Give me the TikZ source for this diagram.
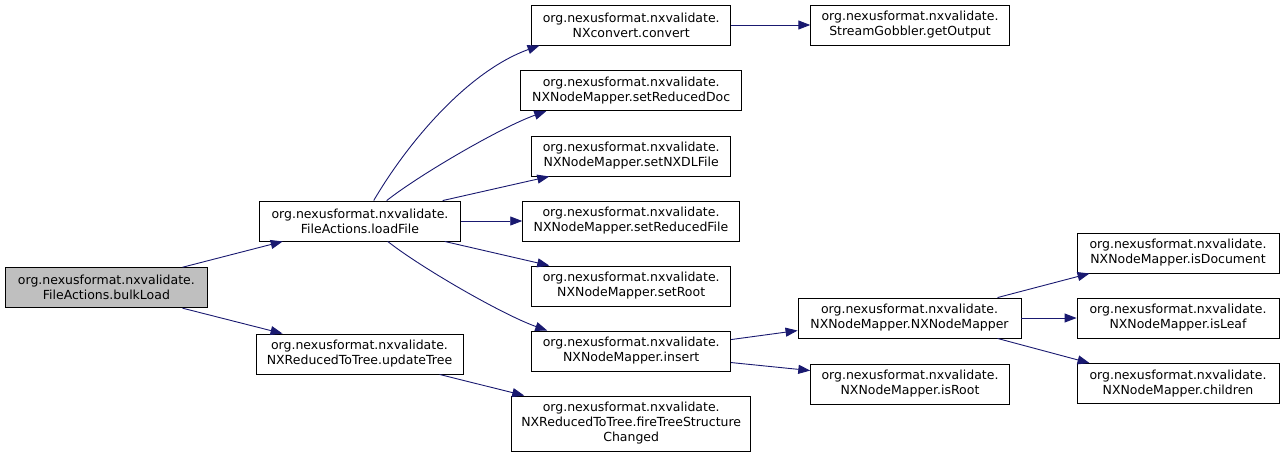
\documentclass[tikz,border=0pt]{standalone}
\usepackage{fontspec}
\setmainfont{DejaVu Sans}
\usetikzlibrary{arrows.meta}
\definecolor{edgecol}{HTML}{191970}
\definecolor{graybox}{HTML}{BFBFBF}
\begin{document}
\begin{tikzpicture}[x=1pt,y=1pt,
  box/.style={draw=black, line width=0.9pt, fill=white, align=center, inner sep=0pt,
    minimum height=40pt, font=\fontsize{12.5}{15}\selectfont},
  edge/.style={draw=edgecol, line width=0.9pt, -{Triangle[length=12pt,width=9pt]}}]
\useasboundingbox (0,0) rectangle (1285,-456);

\node[box, fill=graybox, minimum width=201.5pt] (bulkLoad) at (106.4,-287.7) {org.nexusformat.nxvalidate.\\FileActions.bulkLoad};
\node[box, minimum width=201.7pt] (loadFile) at (360,-221) {org.nexusformat.nxvalidate.\\FileActions.loadFile};
\node[box, minimum width=207pt] (updateTree) at (359.5,-354) {org.nexusformat.nxvalidate.\\NXReducedToTree.updateTree};

\node[box, minimum width=199pt] (convert) at (631.2,-25) {org.nexusformat.nxvalidate.\\NXconvert.convert};
\node[box, minimum width=221pt] (setReducedDoc) at (631.2,-90.7) {org.nexusformat.nxvalidate.\\NXNodeMapper.setReducedDoc};
\node[box, minimum width=199pt] (setNXDLFile) at (631.2,-156) {org.nexusformat.nxvalidate.\\NXNodeMapper.setNXDLFile};
\node[box, minimum width=216.6pt] (setReducedFile) at (631,-221) {org.nexusformat.nxvalidate.\\NXNodeMapper.setReducedFile};
\node[box, minimum width=199pt] (setRoot) at (631.2,-286) {org.nexusformat.nxvalidate.\\NXNodeMapper.setRoot};
\node[box, minimum width=199pt] (insert) at (631.2,-351) {org.nexusformat.nxvalidate.\\NXNodeMapper.insert};
\node[box, minimum width=239pt, minimum height=55pt] (fire) at (631.2,-423.5) {org.nexusformat.nxvalidate.\\NXReducedToTree.fireTreeStructure\\Changed};

\node[box, minimum width=198.5pt] (getOutput) at (910,-25) {org.nexusformat.nxvalidate.\\StreamGobbler.getOutput};
\node[box, minimum width=223pt] (mapper) at (909.5,-318) {org.nexusformat.nxvalidate.\\NXNodeMapper.NXNodeMapper};
\node[box, minimum width=198.5pt] (isRoot) at (910,-384) {org.nexusformat.nxvalidate.\\NXNodeMapper.isRoot};

\node[box, minimum width=202pt] (isDocument) at (1178,-253) {org.nexusformat.nxvalidate.\\NXNodeMapper.isDocument};
\node[box, minimum width=202pt] (isLeaf) at (1178,-318) {org.nexusformat.nxvalidate.\\NXNodeMapper.isLeaf};
\node[box, minimum width=202pt] (children) at (1178,-383.5) {org.nexusformat.nxvalidate.\\NXNodeMapper.children};

% edges
\draw[edge] ([xshift=177.3pt]bulkLoad.north west) -- ([xshift=24pt]loadFile.south west);
\draw[edge] ([xshift=177.3pt]bulkLoad.south west) -- ([xshift=27pt]updateTree.north west);

\draw[edge] ([xshift=115pt]loadFile.north west) .. controls +(34,58) and +(-72,-26) .. ([xshift=8.3pt]convert.south west);
\draw[edge] ([xshift=128pt]loadFile.north west) .. controls +(33,26) and +(-45,-16) .. ([xshift=26pt]setReducedDoc.south west);
\draw[edge] ([xshift=184pt]loadFile.north west) -- ([xshift=18pt]setNXDLFile.south west);
\draw[edge] (loadFile.east) -- (setReducedFile.west);
\draw[edge] ([xshift=186pt]loadFile.south west) -- ([xshift=18pt]setRoot.north west);
\draw[edge] ([xshift=129pt]loadFile.south west) .. controls +(33,-26) and +(-45,16) .. ([xshift=16pt]insert.north west);

\draw[edge] ([xshift=184pt]updateTree.south west) -- ([xshift=13pt]fire.north west);

\draw[edge] (convert.east) -- (getOutput.west);
\draw[edge] ([yshift=-9pt]insert.north east) -- ([yshift=-33pt]mapper.north west);
\draw[edge] ([yshift=-32pt]insert.north east) -- ([yshift=-7pt]isRoot.north west);

\draw[edge] ([xshift=200pt]mapper.north west) -- ([xshift=13pt]isDocument.south west);
\draw[edge] (mapper.east) -- (isLeaf.west);
\draw[edge] ([xshift=200pt]mapper.south west) -- ([xshift=13pt]children.north west);
\end{tikzpicture}
\end{document}
